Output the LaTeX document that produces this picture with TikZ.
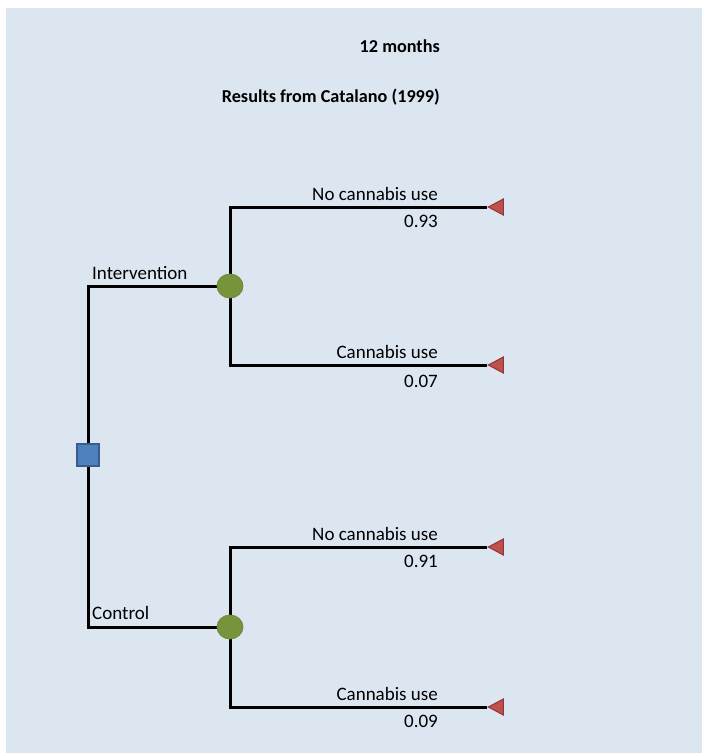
\documentclass[tikz,border=0pt]{standalone}
\usepackage{fontspec}
\setmainfont{Carlito}
\usetikzlibrary{shapes.geometric,positioning,backgrounds}

\definecolor{panel}{RGB}{220,230,241}
\definecolor{decfill}{RGB}{79,129,189}
\definecolor{decline}{RGB}{56,93,138}
\definecolor{chfill}{RGB}{119,147,60}
\definecolor{chline}{RGB}{110,135,58}
\definecolor{endfill}{RGB}{192,80,77}
\definecolor{endline}{RGB}{140,56,54}

\begin{document}
\begin{tikzpicture}[x=1pt,y=-1pt,
      decision/.style={rectangle, draw=decline, fill=decfill, line width=2.5pt,
        minimum size=22pt, inner sep=0pt},
      chance/.style={ellipse, draw=chline, fill=chfill, line width=0.8pt,
        minimum width=26pt, minimum height=24pt, inner sep=0pt},
      terminal/.style={isosceles triangle, shape border rotate=180,
        isosceles triangle stretches, draw=endline, fill=endfill, line width=1pt,
        minimum height=15pt, minimum width=16pt, inner sep=0pt},
      branch/.style={line width=3pt, black},
      lbl/.style={font=\fontsize{19}{22}\selectfont, inner sep=0pt},
      ttl/.style={font=\fontsize{18.2}{21}\selectfont\bfseries, inner sep=0pt, anchor=east},
    ]
    \useasboundingbox (0,0) rectangle (702,753);

    % titles
    \node[ttl] (months) at (440,46) {12 months};
    \node[ttl] (source) at (440,97) {Results from Catalano (1999)};

    % tree nodes
    \node[decision] (choice) at (88,455) {};
    \node[chance] (interv) at (230,286) {};
    \node[chance] (contr) at (230,627) {};
    \node[terminal, anchor=apex] (endA) at (487,207) {};
    \node[terminal, anchor=apex] (endB) at (487,365) {};
    \node[terminal, anchor=apex] (endC) at (487,547) {};
    \node[terminal, anchor=apex] (endD) at (487,707) {};

    % branch labels
    \node[lbl, anchor=west] (lblInterv) at (92,273) {Intervention};
    \node[lbl, anchor=west] (lblContr) at (92,613) {Control};
    \node[lbl, left=49pt of endA.apex, yshift=13pt] (lblA) {No cannabis use};
    \node[lbl, left=49pt of endA.apex, yshift=-14pt] (probA) {0.93};
    \node[lbl, left=49pt of endB.apex, yshift=13pt] (lblB) {Cannabis use};
    \node[lbl, left=49pt of endB.apex, yshift=-16pt] (probB) {0.07};
    \node[lbl, left=49pt of endC.apex, yshift=13pt] (lblC) {No cannabis use};
    \node[lbl, left=49pt of endC.apex, yshift=-14pt] (probC) {0.91};
    \node[lbl, left=49pt of endD.apex, yshift=13pt] (lblD) {Cannabis use};
    \node[lbl, left=49pt of endD.apex, yshift=-14pt] (probD) {0.09};

    \begin{pgfonlayer}{background}
      \fill[panel] (6,8) rectangle (702,753);
      \draw[branch] (interv.center) -| (choice.center) |- (contr.center);
      \draw[branch] (endA.apex) -| (interv.center) |- (endB.apex);
      \draw[branch] (endC.apex) -| (contr.center) |- (endD.apex);
    \end{pgfonlayer}
  \end{tikzpicture}
\end{document}
